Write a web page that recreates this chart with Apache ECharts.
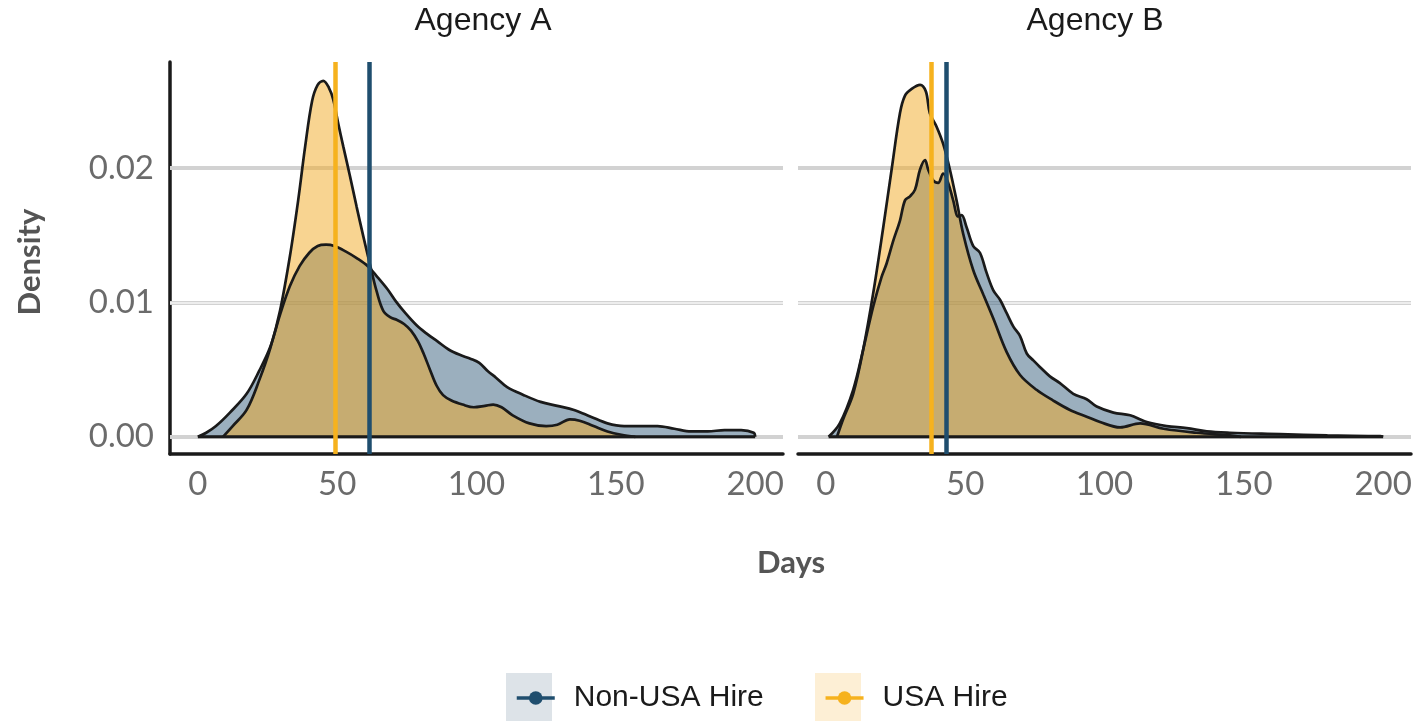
<!DOCTYPE html>
<html><head><meta charset="utf-8">
<script src="https://cdn.jsdelivr.net/npm/echarts@6/dist/echarts.min.js"></script>
<style>html,body{margin:0;padding:0;background:#fff}#c{width:1418px;height:721px}</style>
</head><body><div id="c"></div>
<script>
// ---- data ----
const panelTitles = ['Agency A', 'Agency B'];
const groupNames = ['Non-USA Hire', 'USA Hire'];
const xTicks = [0, 50, 100, 150, 200];
const yTicks = [0, 0.01, 0.02];
const yMinorTicks = [0.005, 0.015, 0.025];

// Agency A densities [days, density]
const aNonUSA = [[0,0],[3,0.0003],[6.5,0.0008],[11.5,0.0018],[17.5,0.0032],[22,0.0049],[26,0.0067],[29.5,0.0091],[33,0.0112],[36.5,0.0127],[40,0.0137],[43,0.0142],[46,0.0143],[49,0.0142],[53,0.0138],[57,0.0133],[61,0.0127],[64,0.0120],[68,0.0110],[71,0.0101],[74.5,0.0092],[78.5,0.0083],[82,0.0077],[86,0.0071],[90,0.0065],[94,0.0061],[98,0.0058],[101,0.0055],[104,0.0049],[107,0.0044],[111,0.0037],[117,0.0031],[123,0.0026],[129,0.0023],[135,0.0020],[141,0.0015],[147,0.0010],[153,0.0008],[159,0.0008],[165,0.0008],[171,0.0006],[177,0.0004],[183,0.0004],[189,0.0005],[195,0.0005],[199.5,0.0003],[200,0]];
const aUSA = [[9,0],[12.5,0.0008],[17.5,0.0020],[22,0.0042],[26,0.0066],[29.5,0.0094],[33,0.0134],[36,0.0176],[38.5,0.0216],[41,0.0250],[43,0.0262],[45,0.0265],[47,0.0260],[48.6,0.0251],[50.4,0.0233],[52.2,0.0216],[54.6,0.0194],[57,0.0171],[59.4,0.0149],[61.8,0.0128],[64.2,0.0108],[66.5,0.0094],[69,0.0089],[71.5,0.0087],[74,0.0084],[76.5,0.0079],[79,0.0071],[81,0.0062],[83.3,0.0050],[85.7,0.0038],[88,0.0031],[91,0.0027],[95,0.0024],[99,0.0022],[103,0.0023],[106,0.0024],[109,0.0022],[113,0.0016],[119,0.0010],[125,0.0008],[129,0.0009],[133.5,0.0013],[137,0.0012],[142,0.0008],[147,0.0004],[152,0.00015],[157,0]];

// Agency B densities [days, density]
const bNonUSA = [[1,0],[5,0.0010],[9.8,0.0035],[13.4,0.0065],[17,0.0097],[20,0.0119],[21.8,0.0129],[24.2,0.0146],[26.6,0.0161],[28.4,0.0176],[30.2,0.0179],[32,0.0184],[33.8,0.0199],[35.6,0.0206],[36.7,0.0199],[38.5,0.0191],[40.3,0.0189],[42.1,0.0196],[43.9,0.0189],[45.7,0.0176],[47.5,0.0164],[48.7,0.0165],[50.5,0.0156],[52.9,0.0142],[55.3,0.0137],[57.7,0.0122],[60.1,0.0109],[62.5,0.0102],[64.9,0.0092],[67.3,0.0082],[69.7,0.0075],[72.1,0.0062],[74.4,0.0057],[76.8,0.0052],[80.4,0.0045],[84,0.0040],[88.8,0.0032],[93.6,0.0028],[97.2,0.00225],[103.2,0.0018],[109.2,0.0016],[115.2,0.0011],[122.3,0.0008],[129.5,0.00065],[136.7,0.0004],[145,0.0003],[163,0.0002],[180,0.0001],[199,0.00005],[200,0]];
const bUSA = [[4,0],[6.2,0.0013],[9.8,0.0032],[13.4,0.0065],[17,0.0107],[20.6,0.0156],[23.6,0.0199],[26.6,0.0241],[28.4,0.0254],[30.8,0.0259],[33.8,0.0262],[35.9,0.0257],[37.3,0.0241],[39.7,0.0231],[42.1,0.0218],[44.5,0.0199],[46.9,0.0176],[49.3,0.0151],[52.9,0.0124],[56.5,0.0106],[60.1,0.0088],[64.9,0.0063],[69.7,0.0046],[75.6,0.0035],[81.6,0.0027],[87.6,0.0020],[93.6,0.0015],[98.4,0.0011],[105.6,0.0007],[112.8,0.0010],[121.2,0.0006],[133,0.0003],[145,0.0001],[149,0]];

// mean lines (days)
const meanNonUSA = [61.4, 43.3];
const meanUSA = [49.4, 37.7];

// ---- styling ----
const colNon = '#1f4e6e', colUSA = '#f6b21e';
const fillNon = 'rgba(55,95,125,0.5)', fillUSA = 'rgba(241,169,35,0.5)';
const densities = [[aNonUSA, aUSA], [bNonUSA, bUSA]];
const gridPos = [{left: 170, top: 62, width: 613, height: 392}, {left: 798, top: 62, width: 613, height: 392}];
const X_MIN = -10, X_MAX = 210, Y_MIN = -0.00128, Y_MAX = 0.0279;

const grids = [], xAxes = [], yAxes = [], series = [];
const tickFont = {fontFamily: 'Lato', fontSize: 33, color: '#6b6b6b'};
for (let p = 0; p < 2; p++) {
  grids.push(Object.assign({containLabel: false}, gridPos[p]));
  xAxes.push({type: 'value', gridIndex: p, min: X_MIN, max: X_MAX,
    axisLine: {show: true, onZero: false, lineStyle: {color: '#1a1a1a', width: 3.5}},
    axisTick: {show: false}, splitLine: {show: false},
    axisLabel: Object.assign({customValues: xTicks, margin: 14, formatter: v => String(v)}, tickFont)});
  yAxes.push({type: 'value', gridIndex: p, min: Y_MIN, max: Y_MAX,
    axisLine: {show: p === 0, onZero: false, lineStyle: {color: '#1a1a1a', width: 3.5}},
    axisTick: {show: false}, splitLine: {show: false},
    axisLabel: Object.assign({show: p === 0, customValues: yTicks, margin: 16, formatter: v => v.toFixed(2)}, tickFont)});
  const [nonData, usaData] = densities[p];
  const common = {type: 'line', xAxisIndex: p, yAxisIndex: p, smooth: 0.35,
    symbol: 'circle', showSymbol: false, silent: true, animation: false};
  series.push(Object.assign({}, common, {name: groupNames[0], data: nonData, z: 2,
    lineStyle: {color: '#1a1a1a', width: 2.7}, itemStyle: {color: colNon}, areaStyle: {color: fillNon, opacity: 1}}));
  series.push(Object.assign({}, common, {name: groupNames[1], data: usaData, z: 2,
    lineStyle: {color: '#1a1a1a', width: 2.7}, itemStyle: {color: colUSA}, areaStyle: {color: fillUSA, opacity: 1},
    markLine: {silent: true, symbol: 'none', z: 10, animation: false, label: {show: false},
      data: [
        {xAxis: meanUSA[p], lineStyle: {color: colUSA, width: 4.5, type: 'solid'}},
        {xAxis: meanNonUSA[p], lineStyle: {color: colNon, width: 4.5, type: 'solid'}}
      ]}}));
  // baseline of the density outlines (y = 0 over the span of the curves)
  const xs0 = Math.min(nonData[0][0], usaData[0][0]);
  const xs1 = Math.max(nonData[nonData.length - 1][0], usaData[usaData.length - 1][0]);
  series.push({type: 'line', name: 'baseline', xAxisIndex: p, yAxisIndex: p, data: [[xs0, 0], [xs1, 0]],
    showSymbol: false, silent: true, animation: false, z: 3, lineStyle: {color: '#1a1a1a', width: 3},
    markLine: {silent: true, symbol: 'none', z: 1, animation: false, label: {show: false},
      data: yTicks.map(v => ({yAxis: v, lineStyle: {color: '#d2d2d2', width: 4, type: 'solid'}}))
        .concat(yMinorTicks.map(v => ({yAxis: v, lineStyle: {color: '#ededed', width: 2, type: 'solid'}})))}});
}

const chart = echarts.init(document.getElementById('c'), null, {renderer: 'canvas'});
chart.setOption({
  backgroundColor: '#ffffff',
  animation: false,
  grid: grids, xAxis: xAxes, yAxis: yAxes, series: series,
  legend: {
    data: [
      {name: groupNames[0], itemStyle: {color: colNon}, lineStyle: {color: colNon, width: 3.5}},
      {name: groupNames[1], itemStyle: {color: colUSA}, lineStyle: {color: colUSA, width: 3.5}}
    ],
    left: 510, top: 678, itemWidth: 38, itemHeight: 17, itemGap: 60, selectedMode: false,
    textStyle: {fontFamily: 'Liberation Sans', fontSize: 30, color: '#1a1a1a', padding: [0, 0, 0, 14]}
  },
  graphic: [
    {type: 'rect', z: 0, silent: true, shape: {x: 506, y: 673, width: 46, height: 48}, style: {fill: '#dde3e8'}},
    {type: 'rect', z: 0, silent: true, shape: {x: 815, y: 673, width: 46, height: 48}, style: {fill: '#fdefd5'}},
    {type: 'text', silent: true, x: 483, y: 21, style: {text: panelTitles[0], align: 'center', verticalAlign: 'middle', fontFamily: 'Liberation Sans', fontSize: 32, fill: '#1a1a1a'}},
    {type: 'text', silent: true, x: 1095, y: 21, style: {text: panelTitles[1], align: 'center', verticalAlign: 'middle', fontFamily: 'Liberation Sans', fontSize: 32, fill: '#1a1a1a'}},
    {type: 'text', silent: true, x: 791, y: 563, style: {text: 'Days', align: 'center', verticalAlign: 'middle', fontFamily: 'Lato', fontWeight: 'bold', fontSize: 31, fill: '#555555'}},
    {type: 'text', silent: true, x: 30, y: 262, rotation: Math.PI / 2, style: {text: 'Density', align: 'center', verticalAlign: 'middle', fontFamily: 'Lato', fontWeight: 'bold', fontSize: 31, fill: '#555555'}}
  ]
});
</script>
</body></html>
